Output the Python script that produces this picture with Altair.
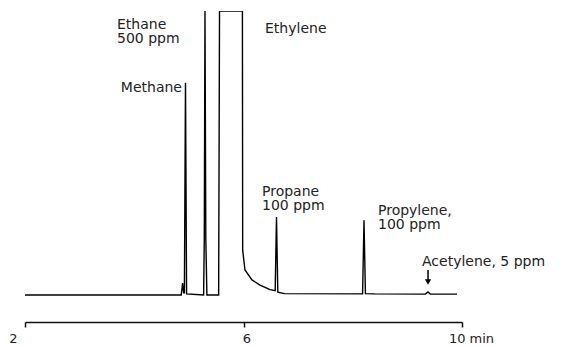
import altair as alt
import pandas as pd

# Chromatogram trace (time in min, detector signal in arbitrary units, 100 = off-scale)
trace_time = [2.00, 4.86, 4.885, 4.905, 4.918, 4.938, 4.958, 5.27, 5.282, 5.295, 5.31, 5.33,
              5.545, 5.561, 5.98, 5.985, 6.027, 6.155, 6.302, 6.485, 6.58, 6.604, 6.628,
              6.75, 8.18, 8.206, 8.232, 8.40, 9.33, 9.378, 9.42, 9.909]
trace_signal = [0.0, 0.0, 4.2, 0.8, 0.8, 74.7, 0.4, 0.0, 20.0, 100.0, 20.0, 0.0,
                0.0, 100.0, 100.0, 15.8, 8.8, 5.3, 3.5, 1.9, 1.5, 27.5, 1.0,
                0.5, 0.4, 26.3, 0.5, 0.4, 0.3, 1.05, 0.3, 0.3]

# Peak annotations (left-aligned)
left_text = ["Ethane", "500 ppm", "Ethylene", "Propane", "100 ppm", "Propylene,", "100 ppm", "Acetylene, 5 ppm"]
left_time = [3.684, 3.684, 6.394, 6.339, 6.339, 8.462, 8.462, 9.268]
left_signal = [95.2, 90.1, 93.7, 36.4, 31.3, 29.7, 24.6, 11.6]

# Right-aligned annotation
right_text = ["Methane"]
right_time = [4.874]
right_signal = [73.0]

# Arrow pointing at the acetylene peak
arrow_time = [9.378]
arrow_top = [8.8]
arrow_bottom = [5.2]
arrow_head = [4.6]

tick_values = [2, 6, 10]

trace = pd.DataFrame({"t": trace_time, "s": trace_signal, "order": list(range(len(trace_time)))})
left_df = pd.DataFrame({"t": left_time, "s": left_signal, "label": left_text})
right_df = pd.DataFrame({"t": right_time, "s": right_signal, "label": right_text})
arrow_df = pd.DataFrame({"t": arrow_time, "s": arrow_top, "s2": arrow_bottom, "h": arrow_head})

xscale = alt.Scale(domain=[2, 10], nice=False, zero=False)
yscale = alt.Scale(domain=[-9.5, 100], nice=False, zero=False)

x_axis = alt.Axis(
    values=tick_values,
    title=None,
    grid=False,
    domainColor="#111",
    domainWidth=1.5,
    tickColor="#111",
    tickWidth=1.5,
    tickSize=5,
    labelFont="DejaVu Sans",
    labelFontSize=13,
    labelColor="#222",
    labelPadding=5,
    labelFlush=False,
    labelExpr="datum.value == 10 ? '10 min' : datum.label",
    labelOffset={"condition": [{"test": "datum.value == 2", "value": -12},
                               {"test": "datum.value == 10", "value": 9}],
                 "value": 3},
)

base = alt.Chart(trace)

line = base.mark_line(color="black", strokeWidth=1.4, clip=True).encode(
    x=alt.X("t:Q", scale=xscale, axis=x_axis),
    y=alt.Y("s:Q", scale=yscale, axis=None),
    order="order:Q",
)

txt_left = alt.Chart(left_df).mark_text(
    align="left", baseline="middle", font="DejaVu Sans", fontSize=14, color="#222"
).encode(x=alt.X("t:Q", scale=xscale), y=alt.Y("s:Q", scale=yscale), text="label:N")

txt_right = alt.Chart(right_df).mark_text(
    align="right", baseline="middle", font="DejaVu Sans", fontSize=14, color="#222"
).encode(x=alt.X("t:Q", scale=xscale), y=alt.Y("s:Q", scale=yscale), text="label:N")

arrow_line = alt.Chart(arrow_df).mark_rule(color="black", strokeWidth=1.5).encode(
    x=alt.X("t:Q", scale=xscale), y=alt.Y("s:Q", scale=yscale), y2="s2:Q"
)
arrow_tip = alt.Chart(arrow_df).mark_point(
    shape="triangle-down", filled=True, color="black", size=40, opacity=1
).encode(x=alt.X("t:Q", scale=xscale), y=alt.Y("h:Q", scale=yscale))

chart = alt.layer(line, txt_left, txt_right, arrow_line, arrow_tip).properties(
    width=437,
    height=311,
    autosize=alt.AutoSizeParams(type="none"),
    padding={"left": 25, "top": 11, "right": 112, "bottom": 25},
    background="white",
).configure_view(stroke=None)

chart.save("out.html", embed_options={"renderer": "svg", "actions": False})
